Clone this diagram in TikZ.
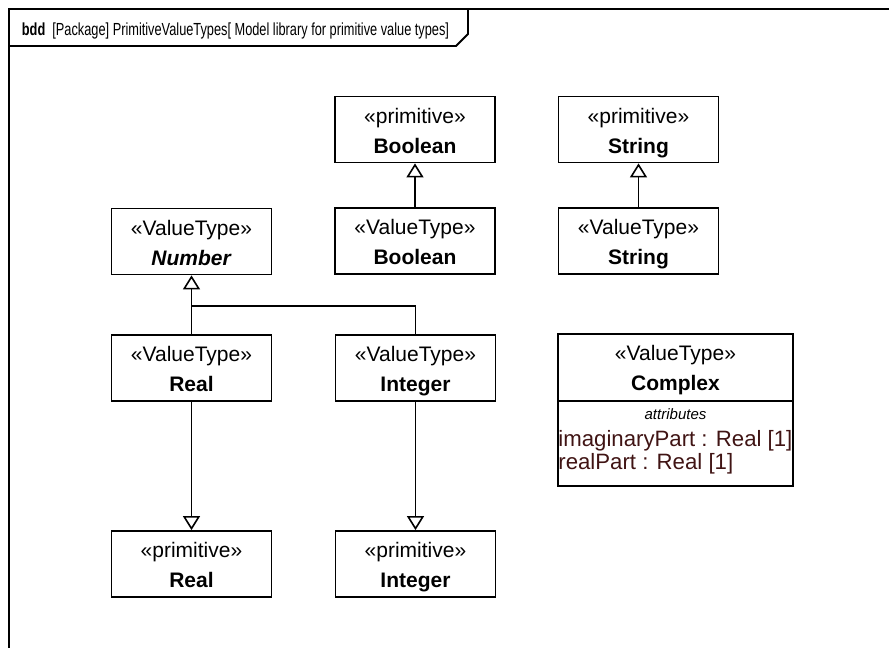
\documentclass[tikz,border=0pt]{standalone}
\usepackage{fontspec}
\setmainfont{Liberation Sans}
\usetikzlibrary{arrows.meta}
\definecolor{attrcol}{RGB}{64,20,20}
\newcommand\twolines[2]{\rule{0pt}{22pt}#1\\\textbf{#2}\rule[-5pt]{0pt}{5pt}}
\begin{document}
\begin{tikzpicture}[x=1pt,y=-1pt,line width=1.8pt,line join=miter,
  box/.style={draw,rectangle,minimum width=160pt,minimum height=66pt,align=center,inner sep=0pt,font=\fontsize{21}{30}\selectfont},
  gen/.style={-{Triangle[open,length=14pt,width=17pt,line width=1.6pt]}},
  attrtext/.style={anchor=base west,inner sep=0pt,text=attrcol,font=\fontsize{22.2}{24}\selectfont}]
\useasboundingbox (0,0) rectangle (889,648);
\clip (0,0) rectangle (889,648);
% frame
\draw (9,700) -- (9,9) -- (950,9);
\draw (9,46) -- (456,46) -- (468,34) -- (468,9);
\node[anchor=base west,inner sep=0pt,font=\fontsize{17.5}{20}\selectfont] (hdr) at (21,35)
  {\scalebox{0.73}[1]{\textbf{bdd}\ \ [Package] PrimitiveValueTypes[ Model library for primitive value types]}};
% boxes
\node[box] (primBool) at (415,129.5) {\twolines{«primitive»}{Boolean}};
\node[box] (primString) at (638.5,129.5) {\twolines{«primitive»}{String}};
\node[box] (vtNumber) at (191.5,241.5) {\twolines{«ValueType»}{\itshape Number}};
\node[box] (vtBool) at (415,241) {\twolines{«ValueType»}{Boolean}};
\node[box] (vtString) at (638.5,241) {\twolines{«ValueType»}{String}};
\node[box] (vtReal) at (191.5,368) {\twolines{«ValueType»}{Real}};
\node[box] (vtInteger) at (415.5,368) {\twolines{«ValueType»}{Integer}};
\node[box] (primReal) at (191.5,564) {\twolines{«primitive»}{Real}};
\node[box] (primInteger) at (415.5,564) {\twolines{«primitive»}{Integer}};
% Complex
\node[draw,rectangle,minimum width=235pt,minimum height=152pt,inner sep=0pt] (complex) at (675.5,410) {};
\coordinate (cdiv) at (0,401);
\draw (complex.west |- cdiv) -- (complex.east |- cdiv);
\node[align=center,inner sep=0pt,font=\fontsize{21}{30}\selectfont] (cname) at (675.5,367) {\twolines{«ValueType»}{Complex}};
\node[anchor=base,inner sep=0pt,font=\fontsize{15}{18}\selectfont\itshape] (cattr) at (675.5,419) {attributes};
\node[attrtext] (a1) at (557.5,446) {imaginaryPart : Real [1]};
\node[attrtext] (a2) at (557.5,469) {realPart : Real [1]};
% connectors
\draw[gen] (vtBool) -- (primBool);
\draw[gen] (vtString) -- (primString);
\coordinate (j) at (191.5,306);
\draw (vtReal.north) -- (j) -| (vtInteger.north);
\draw[gen] (j) -- (vtNumber.south);
\draw[gen] (vtReal) -- (primReal);
\draw[gen] (vtInteger) -- (primInteger);
\end{tikzpicture}
\end{document}
